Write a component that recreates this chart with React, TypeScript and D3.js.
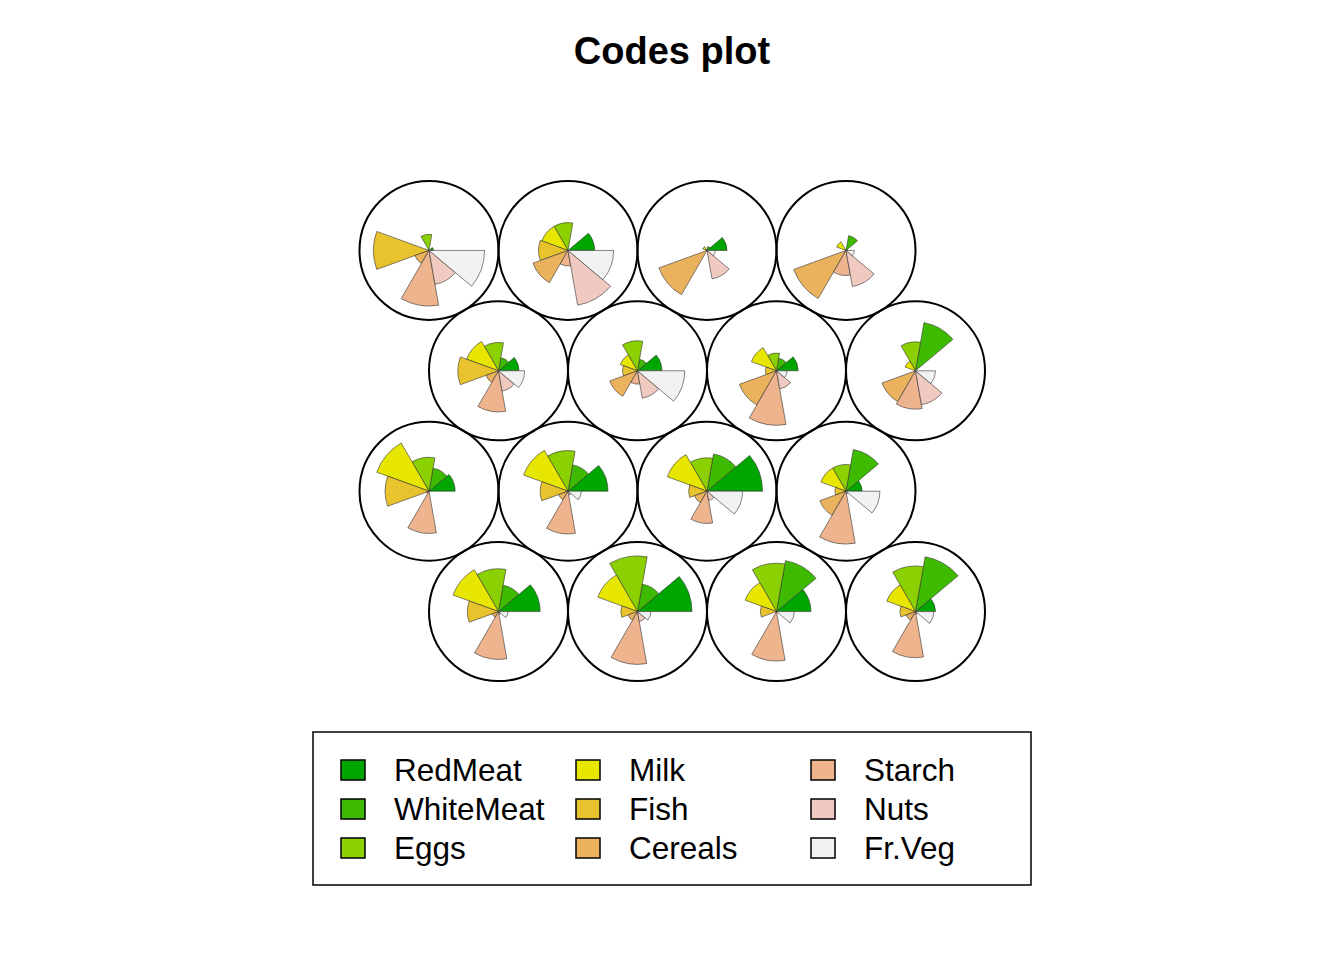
import * as d3 from "d3";
import React from "react";

// variables of the codebook vectors, in segment order
const variables = [
  "RedMeat",
  "WhiteMeat",
  "Eggs",
  "Milk",
  "Fish",
  "Cereals",
  "Starch",
  "Nuts",
  "Fr.Veg",
];

// terrain.colors(9)
const segColors = [
  "#00A600",
  "#3EBB00",
  "#8BD000",
  "#E6E600",
  "#E8C32E",
  "#EBB25E",
  "#EDB48E",
  "#F0C9C0",
  "#F2F2F2",
];

// scaled codes (0..1 per variable), units ordered bottom row first like kohonen
const row1 = [
  [0.75, 0.48, 0.77, 0.87, 0.56, 0.12, 0.86, 0.05, 0.17],
  [0.98, 0.5, 1.0, 0.76, 0.3, 0.18, 0.95, 0.18, 0.24],
  [0.62, 0.93, 0.87, 0.6, 0.29, 0.02, 0.89, 0.02, 0.32],
  [0.36, 1.0, 0.82, 0.55, 0.28, 0.18, 0.83, 0.05, 0.33],
];
const row2 = [
  [0.47, 0.42, 0.61, 1.0, 0.79, 0.05, 0.76, 0.0, 0.0],
  [0.72, 0.48, 0.73, 0.85, 0.5, 0.18, 0.77, 0.07, 0.24],
  [1.0, 0.68, 0.6, 0.76, 0.33, 0.24, 0.58, 0.17, 0.64],
  [0.29, 0.76, 0.48, 0.48, 0.2, 0.5, 0.95, 0.05, 0.61],
];
const row3 = [
  [0.37, 0.24, 0.51, 0.61, 0.73, 0.24, 0.74, 0.37, 0.47],
  [0.44, 0.21, 0.54, 0.33, 0.27, 0.53, 0.24, 0.5, 0.85],
  [0.39, 0.23, 0.32, 0.48, 0.2, 0.71, 0.98, 0.33, 0.19],
  [0.0, 0.88, 0.52, 0.2, 0.0, 0.64, 0.69, 0.62, 0.36],
];
const row4 = [
  [0.08, 0.0, 0.29, 0.0, 1.0, 0.27, 1.0, 0.62, 1.0],
  [0.48, 0.0, 0.5, 0.5, 0.53, 0.67, 0.28, 1.0, 0.82],
  [0.36, 0.07, 0.0, 0.08, 0.02, 0.92, 0.0, 0.52, 0.15],
  [0.03, 0.27, 0.0, 0.18, 0.0, 1.0, 0.45, 0.66, 0.15],
];
const codes = [...row1, ...row2, ...row3, ...row4];

const xdim = 4;
const ydim = 4;

// hexagonal grid like somgrid(): odd rows shifted by half a unit
const pts = codes.map((_, i) => {
  const gx = (i % xdim) + 1;
  const gy = Math.floor(i / xdim) + 1;
  return { x: gx + 0.5 * (gy % 2), y: (Math.sqrt(3) / 2) * gy };
});

const W = 1344;
const H = 960;
const unit = 139;
const xScale = d3
  .scaleLinear()
  .domain([1, 4.5])
  .range([429, 429 + 3.5 * unit]);
const yMid = ((Math.sqrt(3) / 2) * (1 + ydim)) / 2;
const yScale = d3
  .scaleLinear()
  .domain([yMid - 1, yMid + 1])
  .range([431 + unit, 431 - unit]);

const rScale = d3.scaleLinear().domain([0, 1]).range([0, 0.4 * unit]);
const nSeg = variables.length;
const segAngle = (2 * Math.PI) / nSeg;

const arc = d3.arc<{ r: number; k: number }>()
  .innerRadius(0)
  .outerRadius((d) => rScale(d.r))
  // R angles run counter-clockwise from east; d3 runs clockwise from north
  .startAngle((d) => Math.PI / 2 - (d.k + 1) * segAngle)
  .endAngle((d) => Math.PI / 2 - d.k * segAngle);

const legendCols = 3;
const legendRows = 3;

const App: React.FC = () => {
  const font = "'Liberation Sans', Arial, Helvetica, sans-serif";
  return (
    <svg width={W} height={H} style={{ display: "block", position: "absolute", left: 0, top: 0 }}>
      <rect width={W} height={H} fill="#ffffff" />
      <text
        x={672}
        y={64}
        textAnchor="middle"
        fontFamily={font}
        fontWeight="bold"
        fontSize={38}
      >
        Codes plot
      </text>

      {codes.map((vals, i) => {
        const cx = xScale(pts[i].x);
        const cy = yScale(pts[i].y);
        return (
          <g key={i} transform={`translate(${cx},${cy})`}>
            <circle r={0.5 * unit} fill="none" stroke="#000" strokeWidth={2} />
            {vals.map((v, k) => (
              <path
                key={k}
                d={arc({ r: v, k }) || ""}
                fill={segColors[k]}
                stroke="#333"
                strokeWidth={0.6}
              />
            ))}
          </g>
        );
      })}

      <g fontFamily={font} fontSize={31.5}>
        <rect x={313} y={732} width={718} height={153} fill="none" stroke="#000" strokeWidth={1.5} />
        {variables.map((name, k) => {
          const col = Math.floor(k / legendRows);
          const row = k % legendRows;
          const sx = 341 + col * 235;
          const sy = 770 + row * 39;
          return (
            <g key={name}>
              <rect
                x={sx}
                y={sy - 10}
                width={24}
                height={20}
                fill={segColors[k]}
                stroke="#000"
                strokeWidth={1.5}
              />
              <text x={sx + 53} y={sy + 11}>
                {name}
              </text>
            </g>
          );
        })}
      </g>
    </svg>
  );
};

export default App;
